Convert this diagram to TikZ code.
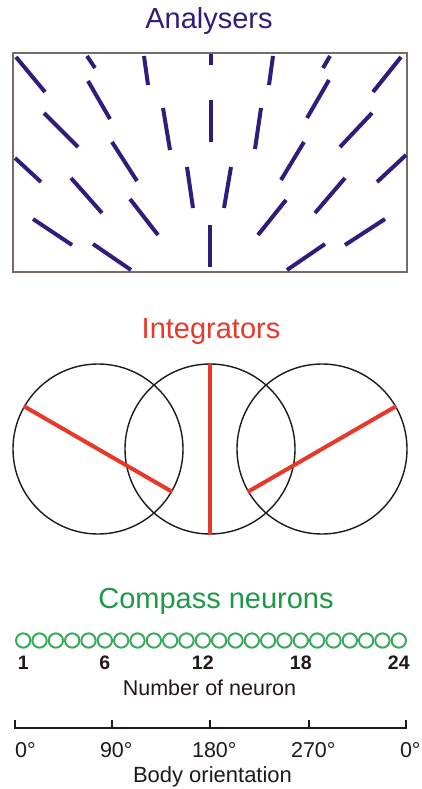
\documentclass[tikz,border=0pt]{standalone}
\usepackage{fontspec}
\setmainfont{Liberation Sans}
\usepackage{xcolor}
\usepackage{tikz}
\usetikzlibrary{positioning}
\definecolor{AnaBlue}{RGB}{44,30,122}
\definecolor{IntRed}{RGB}{232,56,42}
\definecolor{CompGreen}{RGB}{28,152,72}
\definecolor{RingGreen}{RGB}{56,170,92}
\definecolor{FrameGray}{RGB}{118,108,102}
\definecolor{InkDark}{RGB}{34,24,24}
\tikzset{
  title/.style={inner sep=0pt, anchor=base, font=\fontsize{29}{32}\selectfont},
  bar/.style={draw=AnaBlue, line width=4pt},
  frame/.style={draw=FrameGray, line width=1.6pt},
  integrator/.style={circle, draw=InkDark, line width=1.4pt,
    minimum size=170pt, inner sep=0pt},
  diam/.style={draw=IntRed, line width=4pt},
  neuron/.style={circle, draw=RingGreen, line width=2pt,
    minimum size=14.3pt, inner sep=0pt},
  numlbl/.style={inner sep=0pt, anchor=base, text=InkDark,
    font=\fontsize{19.5}{22}\selectfont\bfseries},
  axlbl/.style={inner sep=0pt, anchor=base, text=InkDark,
    font=\fontsize{21.5}{24}\selectfont},
  axline/.style={draw=InkDark, line width=1.4pt}
}
\begin{document}
\begin{tikzpicture}[x=1pt, y=-1pt]
  \useasboundingbox (0,0) rectangle (422,789);

  % analysers
  \node[title, text=AnaBlue] (anaT) at (209,29) {Analysers};
  \draw[frame] (13,53) rectangle (407,272);
  \foreach \xa/\ya/\xb/\yb in {
      16/57/45/92, 87/56/95/68, 144/56/148/85, 211/54/211/65,
      273/56/269/85, 330/56/323/68, 401/57/373/92,
      88/81/110/119, 163/108/170/150, 211/100/211/142,
      261/108/255/149, 329/80/307/118,
      44/113/78/147, 372/113/340/147,
      112/142/137/181, 304/142/281/180,
      15/158/41/182, 406/155/377/182,
      71/178/102/213, 187/167/193/208, 231/167/224/208, 345/178/315/213,
      130/199/158/235, 286/200/258/235,
      33/219/72/245, 385/219/345/245, 210/225/210/267,
      93/244/131/270, 325/244/287/270}
    \draw[bar] (\xa,\ya) -- (\xb,\yb);

  % integrators
  \node[title, text=IntRed] (intT) at (211,338) {Integrators};
  \node[integrator] (intL) at (98,449) {};
  \node[integrator] (intM) at (210,449) {};
  \node[integrator] (intR) at (322,449) {};
  \draw[diam] (intL.150) -- (intL.-30);
  \draw[diam] (intM.90) -- (intM.-90);
  \draw[diam] (intR.30) -- (intR.210);

  % compass neurons
  \node[title, text=CompGreen] (compT) at (216,608) {Compass neurons};
  \foreach \i in {1,...,24}
    \node[neuron] (n\i) at ({23.2+16.33*(\i-1)},640.5) {};
  \foreach \i in {1,6,12,18,24}
    \node[numlbl] (lab\i) at (n\i |- 0,669) {\i};
  \node[axlbl] (numT) at (209.5,695) {Number of neuron};

  % body orientation axis
  \draw[axline] (15,720) -- (15,728) -- (406,728) -- (406,720);
  \foreach \x in {112,210,309}
    \draw[axline] (\x,728) -- (\x,720);
  \node[axlbl, anchor=base west] (deg0) at (15,757) {0°};
  \node[axlbl] (deg90) at (112,757) {90\rlap{°}};
  \node[axlbl] (deg180) at (210,757) {180\rlap{°}};
  \node[axlbl] (deg270) at (309,757) {270\rlap{°}};
  \node[axlbl] (deg360) at (406,757) {0\rlap{°}};
  \node[axlbl, font=\fontsize{22}{24}\selectfont] (bodyT) at (212.5,782) {Body orientation};
\end{tikzpicture}
\end{document}
